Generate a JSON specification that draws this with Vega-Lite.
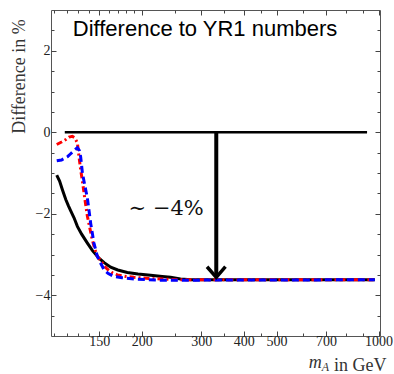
{
  "$schema": "https://vega.github.io/schema/vega-lite/v6.json",
  "autosize": {"type": "none"},
  "width": 329,
  "height": 326,
  "padding": {"left": 51, "top": 10, "right": 14, "bottom": 38},
  "background": "white",
  "config": {
    "view": {"stroke": "#555", "strokeWidth": 1},
    "axis": {"domain": false, "grid": false, "tickColor": "#444", "tickWidth": 1, "labelFont": "Liberation Serif", "labelFontSize": 14, "labelColor": "#222", "titleFont": "Liberation Serif", "titleFontWeight": "normal", "titleColor": "#333"}
  },
  "datasets": {
    "curves": [
      {"s": "black", "m": 112.3, "d": -1.05},
      {"s": "black", "m": 114.5, "d": -1.2},
      {"s": "black", "m": 116.7, "d": -1.41},
      {"s": "black", "m": 119.4, "d": -1.65},
      {"s": "black", "m": 121.5, "d": -1.8},
      {"s": "black", "m": 123.5, "d": -1.93},
      {"s": "black", "m": 126.3, "d": -2.1},
      {"s": "black", "m": 129.2, "d": -2.31},
      {"s": "black", "m": 133, "d": -2.5},
      {"s": "black", "m": 138.3, "d": -2.72},
      {"s": "black", "m": 143, "d": -2.9},
      {"s": "black", "m": 149.6, "d": -3.09},
      {"s": "black", "m": 155, "d": -3.2},
      {"s": "black", "m": 162, "d": -3.31},
      {"s": "black", "m": 170, "d": -3.38},
      {"s": "black", "m": 181.4, "d": -3.44},
      {"s": "black", "m": 195, "d": -3.48},
      {"s": "black", "m": 212.5, "d": -3.51},
      {"s": "black", "m": 230, "d": -3.54},
      {"s": "black", "m": 243.3, "d": -3.56},
      {"s": "black", "m": 260.4, "d": -3.6},
      {"s": "black", "m": 280, "d": -3.62},
      {"s": "black", "m": 400, "d": -3.62},
      {"s": "black", "m": 600, "d": -3.62},
      {"s": "black", "m": 975, "d": -3.62},
      {"s": "red", "m": 112.3, "d": -0.3},
      {"s": "red", "m": 116, "d": -0.24},
      {"s": "red", "m": 119.4, "d": -0.18},
      {"s": "red", "m": 122, "d": -0.12},
      {"s": "red", "m": 124.9, "d": -0.1},
      {"s": "red", "m": 127, "d": -0.14},
      {"s": "red", "m": 129.2, "d": -0.26},
      {"s": "red", "m": 130.6, "d": -0.59},
      {"s": "red", "m": 132.1, "d": -0.92},
      {"s": "red", "m": 133.7, "d": -1.2},
      {"s": "red", "m": 136, "d": -1.65},
      {"s": "red", "m": 138.3, "d": -2.06},
      {"s": "red", "m": 141, "d": -2.4},
      {"s": "red", "m": 143, "d": -2.64},
      {"s": "red", "m": 145.5, "d": -2.87},
      {"s": "red", "m": 148, "d": -3.05},
      {"s": "red", "m": 151.4, "d": -3.15},
      {"s": "red", "m": 154.8, "d": -3.27},
      {"s": "red", "m": 158.4, "d": -3.36},
      {"s": "red", "m": 163, "d": -3.44},
      {"s": "red", "m": 169.5, "d": -3.5},
      {"s": "red", "m": 180, "d": -3.54},
      {"s": "red", "m": 189.7, "d": -3.56},
      {"s": "red", "m": 210, "d": -3.59},
      {"s": "red", "m": 227, "d": -3.6},
      {"s": "red", "m": 260, "d": -3.62},
      {"s": "red", "m": 975, "d": -3.62},
      {"s": "blue", "m": 112.3, "d": -0.7},
      {"s": "blue", "m": 116, "d": -0.68},
      {"s": "blue", "m": 120.8, "d": -0.6},
      {"s": "blue", "m": 123, "d": -0.54},
      {"s": "blue", "m": 126, "d": -0.46},
      {"s": "blue", "m": 129.2, "d": -0.38},
      {"s": "blue", "m": 131, "d": -0.45},
      {"s": "blue", "m": 132.1, "d": -0.6},
      {"s": "blue", "m": 133.7, "d": -1.0},
      {"s": "blue", "m": 135.5, "d": -1.25},
      {"s": "blue", "m": 138.3, "d": -1.62},
      {"s": "blue", "m": 141.4, "d": -2.23},
      {"s": "blue", "m": 144.6, "d": -2.72},
      {"s": "blue", "m": 148, "d": -3.05},
      {"s": "blue", "m": 151.5, "d": -3.22},
      {"s": "blue", "m": 154.8, "d": -3.37},
      {"s": "blue", "m": 159, "d": -3.46},
      {"s": "blue", "m": 165.6, "d": -3.54},
      {"s": "blue", "m": 175, "d": -3.57},
      {"s": "blue", "m": 189.7, "d": -3.6},
      {"s": "blue", "m": 227, "d": -3.63},
      {"s": "blue", "m": 260, "d": -3.63},
      {"s": "blue", "m": 975, "d": -3.62}
    ],
    "refline": [
      {"m": 118.6, "d": 0},
      {"m": 925, "d": 0}
    ],
    "shaft": [
      {"m": 332, "d": 0, "d2": -3.5}
    ],
    "head": [
      {"m": 311.8, "d": -3.3},
      {"m": 332, "d": -3.56},
      {"m": 353.4, "d": -3.3}
    ],
    "labels": [
      {"m": 125.2, "d": 2.36, "t": "Difference to YR1 numbers"}
    ],
    "note": [
      {"m": 183, "d": -2.02, "t": "∼ −4%"}
    ],
    "xm": [
      {"m": 680, "d": -5.79, "t": "m"}
    ],
    "xa": [
      {"m": 680, "d": -5.86, "t": "A"}
    ]
  },
  "resolve": {"axis": {"x": "independent", "y": "independent"}},
  "layer": [
    {
      "data": {"name": "curves"},
      "transform": [{"filter": "datum.s === 'black'"}],
      "mark": {"type": "line", "color": "black", "strokeWidth": 3},
      "encoding": {
        "x": {"field": "m", "type": "quantitative", "scale": {"type": "log", "domain": [108, 1010], "nice": false},
              "axis": {"orient": "bottom", "values": [150, 200, 300, 400, 500, 700, 1000], "format": "d", "tickSize": -5, "labelPadding": 3, "title": "in GeV", "titleFontSize": 18, "titleX": 335, "titleY": 34, "titleAlign": "right", "titleBaseline": "alphabetic"}},
        "y": {"field": "d", "type": "quantitative", "scale": {"domain": [-5, 3], "nice": false},
              "axis": {"orient": "left", "values": [-4, -2, 0, 2], "tickSize": -5, "labelPadding": 6, "title": "Difference in %", "titleFontSize": 18, "titleAngle": -90, "titleX": -27, "titleY": 66, "titleAlign": "center", "titleBaseline": "alphabetic"}}
      }
    },
    {
      "data": {"name": "curves"},
      "transform": [{"filter": "datum.s === 'red'"}],
      "mark": {"type": "line", "color": "#ff0000", "strokeWidth": 3, "strokeDash": [6, 3, 2, 3]},
      "encoding": {
        "x": {"field": "m", "type": "quantitative", "scale": {"type": "log", "domain": [108, 1010], "nice": false},
              "axis": {"orient": "bottom", "values": [110, 120, 130, 140, 160, 170, 180, 190, 250, 350, 450, 600, 800, 900], "tickSize": -3, "labels": false, "title": null}},
        "y": {"field": "d", "type": "quantitative", "scale": {"domain": [-5, 3], "nice": false},
              "axis": {"orient": "left", "values": [-4.5, -3.5, -3, -2.5, -1.5, -1, -0.5, 0.5, 1, 1.5, 2.5], "tickSize": -3, "labels": false, "title": null}}
      }
    },
    {
      "data": {"name": "curves"},
      "transform": [{"filter": "datum.s === 'blue'"}],
      "mark": {"type": "line", "color": "#0000ff", "strokeWidth": 3, "strokeDash": [7, 4]},
      "encoding": {
        "x": {"field": "m", "type": "quantitative", "scale": {"type": "log", "domain": [108, 1010], "nice": false},
              "axis": {"orient": "top", "values": [150, 200, 300, 400, 500, 700, 1000], "tickSize": -5, "labels": false, "title": null}},
        "y": {"field": "d", "type": "quantitative", "scale": {"domain": [-5, 3], "nice": false},
              "axis": {"orient": "right", "values": [-4, -2, 0, 2], "tickSize": -5, "labels": false, "title": null}}
      }
    },
    {
      "data": {"name": "refline"},
      "mark": {"type": "line", "color": "black", "strokeWidth": 2.5},
      "encoding": {
        "x": {"field": "m", "type": "quantitative", "scale": {"type": "log", "domain": [108, 1010], "nice": false},
              "axis": {"orient": "top", "values": [110, 120, 130, 140, 160, 170, 180, 190, 250, 350, 450, 600, 800, 900], "tickSize": -3, "labels": false, "title": null}},
        "y": {"field": "d", "type": "quantitative", "scale": {"domain": [-5, 3], "nice": false},
              "axis": {"orient": "right", "values": [-4.5, -3.5, -3, -2.5, -1.5, -1, -0.5, 0.5, 1, 1.5, 2.5], "tickSize": -3, "labels": false, "title": null}}
      }
    },
    {
      "data": {"name": "shaft"},
      "mark": {"type": "rule", "color": "black", "strokeWidth": 4},
      "encoding": {
        "x": {"field": "m", "type": "quantitative", "axis": null},
        "y": {"field": "d", "type": "quantitative", "axis": null},
        "y2": {"field": "d2"}
      }
    },
    {
      "data": {"name": "head"},
      "mark": {"type": "line", "color": "black", "strokeWidth": 3.5, "strokeJoin": "miter"},
      "encoding": {
        "x": {"field": "m", "type": "quantitative", "axis": null},
        "y": {"field": "d", "type": "quantitative", "axis": null}
      }
    },
    {
      "data": {"name": "labels"},
      "mark": {"type": "text", "font": "Liberation Sans", "fontSize": 22, "align": "left", "baseline": "alphabetic", "color": "black"},
      "encoding": {
        "x": {"field": "m", "type": "quantitative", "axis": null},
        "y": {"field": "d", "type": "quantitative", "axis": null},
        "text": {"field": "t"}
      }
    },
    {
      "data": {"name": "note"},
      "mark": {"type": "text", "font": "DejaVu Serif", "fontSize": 21, "align": "left", "baseline": "alphabetic", "color": "#111"},
      "encoding": {
        "x": {"field": "m", "type": "quantitative", "axis": null},
        "y": {"field": "d", "type": "quantitative", "axis": null},
        "text": {"field": "t"}
      }
    },
    {
      "data": {"name": "xm"},
      "mark": {"type": "text", "font": "Liberation Serif", "fontSize": 18, "fontStyle": "italic", "align": "right", "baseline": "alphabetic", "color": "#333"},
      "encoding": {
        "x": {"field": "m", "type": "quantitative", "axis": null},
        "y": {"field": "d", "type": "quantitative", "axis": null},
        "text": {"field": "t"}
      }
    },
    {
      "data": {"name": "xa"},
      "mark": {"type": "text", "font": "Liberation Serif", "fontSize": 12, "fontStyle": "italic", "align": "left", "baseline": "alphabetic", "color": "#333"},
      "encoding": {
        "x": {"field": "m", "type": "quantitative", "axis": null},
        "y": {"field": "d", "type": "quantitative", "axis": null},
        "text": {"field": "t"}
      }
    }
  ]
}
